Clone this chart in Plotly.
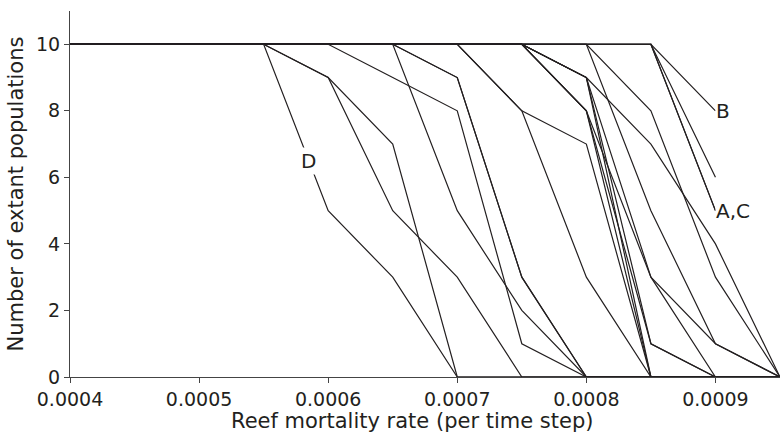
import plotly.graph_objects as go

# x grid (reef mortality rate per time step)
mortality = [0.0004, 0.00045, 0.0005, 0.00055, 0.0006, 0.00065, 0.0007,
             0.00075, 0.0008, 0.00085, 0.0009, 0.00095]

# Number of extant populations for each simulated scenario
line_D   = [10, 10, 10, 10, 5, 3, 0, 0, 0, 0, 0, 0]
line_02  = [10, 10, 10, 10, 9, 7, 0, 0, 0, 0, 0, 0]
line_03  = [10, 10, 10, 10, 9, 5, 3, 0, 0, 0, 0, 0]
line_04  = [10, 10, 10, 10, 10, 9, 8, 1, 0, 0, 0, 0]
line_05  = [10, 10, 10, 10, 10, 10, 9, 3, 0, 0, 0, 0]
line_06  = [10, 10, 10, 10, 10, 10, 9, 3, 0, 0, 0, 0]
line_07  = [10, 10, 10, 10, 10, 10, 5, 2, 0, 0, 0, 0]
line_08  = [10, 10, 10, 10, 10, 10, 10, 8, 7, 0, 0, 0]
line_09  = [10, 10, 10, 10, 10, 10, 10, 8, 3, 0, 0, 0]
line_10  = [10, 10, 10, 10, 10, 10, 10, 10, 9, 0, 0, 0]
line_11  = [10, 10, 10, 10, 10, 10, 10, 10, 9, 1, 0, 0]
line_12  = [10, 10, 10, 10, 10, 10, 10, 10, 9, 3, 1, 0]
line_13  = [10, 10, 10, 10, 10, 10, 10, 10, 9, 7, 4, 0]
line_14  = [10, 10, 10, 10, 10, 10, 10, 10, 8, 0, 0, 0]
line_15  = [10, 10, 10, 10, 10, 10, 10, 10, 8, 1, 0, 0]
line_16  = [10, 10, 10, 10, 10, 10, 10, 10, 8, 3, 0, 0]
line_17  = [10, 10, 10, 10, 10, 10, 10, 10, 10, 8, 3, 0]
line_18  = [10, 10, 10, 10, 10, 10, 10, 10, 10, 5, 1, 0]
line_B   = [10, 10, 10, 10, 10, 10, 10, 10, 10, 10, 8, None]
line_A   = [10, 10, 10, 10, 10, 10, 10, 10, 10, 10, 5, None]
line_C   = [10, 10, 10, 10, 10, 10, 10, 10, 10, 10, 5, None]
line_19  = [10, 10, 10, 10, 10, 10, 10, 10, 10, 10, 6, None]

all_lines = [line_D, line_02, line_03, line_04, line_05, line_06, line_07,
             line_08, line_09, line_10, line_11, line_12, line_13, line_14,
             line_15, line_16, line_17, line_18, line_B, line_A, line_C, line_19]

x_tickvals = [0.0004, 0.0005, 0.0006, 0.0007, 0.0008, 0.0009]
x_ticktext = ["0.0004", "0.0005", "0.0006", "0.0007", "0.0008", "0.0009"]
y_tickvals = [0, 2, 4, 6, 8, 10]

INK = "#231f20"
FONT = "DejaVu Sans"

fig = go.Figure()
for ys in all_lines:
    fig.add_trace(go.Scatter(x=mortality, y=ys, mode="lines",
                             line=dict(color=INK, width=1.2),
                             showlegend=False, hoverinfo="skip"))

# curve labels
fig.add_annotation(x=0.000585, y=6.5, text="D", showarrow=False,
                   font=dict(family=FONT, size=20, color=INK),
                   bgcolor="white", borderpad=1)
fig.add_annotation(x=0.0009, y=line_B[10], text="B", showarrow=False,
                   xanchor="left",
                   font=dict(family=FONT, size=20, color=INK),
                   bgcolor="white", borderpad=0)
fig.add_annotation(x=0.0009, y=line_A[10], text="A,C", showarrow=False,
                   xanchor="left",
                   font=dict(family=FONT, size=20, color=INK),
                   bgcolor="white", borderpad=0)

# x-axis title (placed as annotation to match horizontal offset)
fig.add_annotation(xref="paper", yref="paper", x=0.482, y=-0.12,
                   xanchor="center", yanchor="middle", showarrow=False,
                   text="Reef mortality rate (per time step)",
                   font=dict(family=FONT, size=21, color=INK))

fig.update_layout(
    width=782, height=444,
    margin=dict(l=70, r=2, t=11, b=67),
    paper_bgcolor="white", plot_bgcolor="white",
    font=dict(family=FONT, color=INK),
    showlegend=False,
)
fig.update_xaxes(
    range=[0.0004, 0.00095],
    tickvals=x_tickvals, ticktext=x_ticktext,
    ticks="outside", ticklen=5, tickcolor="#444", tickwidth=1,
    showline=True, linecolor="#444", linewidth=1,
    showgrid=False, zeroline=False,
    tickfont=dict(family=FONT, size=19, color=INK),
)
fig.update_yaxes(
    range=[0, 11],
    tickvals=y_tickvals,
    ticks="outside", ticklen=5, tickcolor="#444", tickwidth=1,
    showline=True, linecolor="#444", linewidth=1,
    showgrid=False, zeroline=False,
    tickfont=dict(family=FONT, size=19, color=INK),
    title=dict(text="Number of extant populations",
               font=dict(family=FONT, size=21, color=INK), standoff=6),
)

fig.write_html("out.html")
